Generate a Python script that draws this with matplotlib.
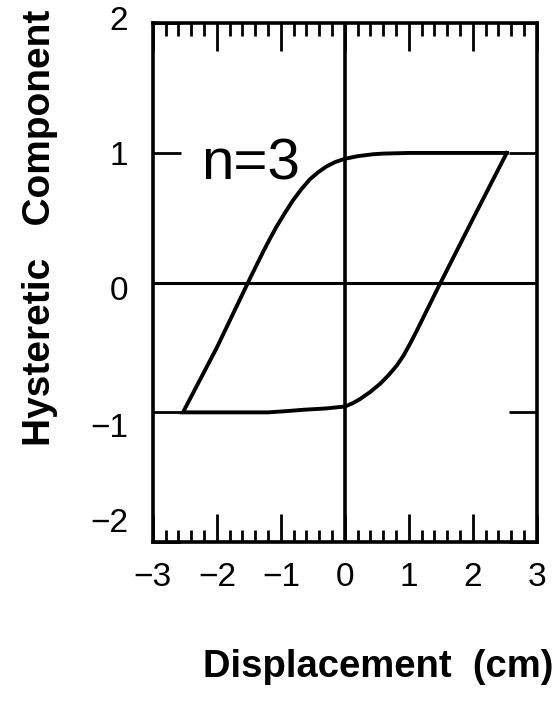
import matplotlib
matplotlib.use("Agg")
import matplotlib.pyplot as plt
from matplotlib.ticker import MultipleLocator
from matplotlib.transforms import ScaledTranslation

plt.rcParams['font.family'] = ['Liberation Sans', 'DejaVu Sans']

# hysteretic loop (n=3)
# upper branch: right tip -> left tip
x_upper = [2.53, 2.0, 1.5, 1.0, 0.6, 0.44, 0.2, 0.0, -0.15, -0.29, -0.42, -0.55, -0.68, -0.81,
           -0.94, -1.07, -1.18, -1.28, -1.38, -1.47, -2.0, -2.53]
y_upper = [1.0, 1.0, 1.0, 1.0, 0.995, 0.99, 0.975, 0.955, 0.93, 0.895, 0.85, 0.795, 0.72, 0.635,
           0.535, 0.43, 0.33, 0.235, 0.135, 0.045, -0.5, -1.0]
# lower branch: left tip -> right tip
x_lower = [-2.53, -2.0, -1.5, -1.2, -0.9, -0.65, -0.3, 0.0, 0.12, 0.23, 0.39, 0.55, 0.68, 0.81,
           0.92, 1.02, 1.12, 1.22, 1.33, 1.44, 2.0, 2.53]
y_lower = [-1.0, -1.0, -1.0, -1.0, -0.99, -0.98, -0.97, -0.955, -0.93, -0.90, -0.845, -0.78, -0.715, -0.64,
           -0.56, -0.47, -0.375, -0.275, -0.165, -0.055, 0.49, 1.0]

xticks = [-3, -2, -1, 0, 1, 2, 3]
yticks = [-2, -1, 0, 1, 2]
label_n = "n=3"

fig = plt.figure(figsize=(5.58, 7.04), dpi=100)
ax = fig.add_axes([0.274, 0.230, 0.688, 0.737])

ax.plot(x_upper + x_lower, y_upper + y_lower, color='black', lw=2.8, solid_joinstyle='miter')
ax.axhline(0, color='black', lw=2.2)
ax.axvline(0, color='black', lw=2.6)

ax.set_xlim(-3, 3)
ax.set_ylim(-2, 2)
for s in ax.spines.values():
    s.set_linewidth(2.6)

ax.set_xticks(xticks)
ax.set_xticklabels([str(t).replace('-', '\u2212') for t in xticks])
ax.xaxis.set_minor_locator(MultipleLocator(0.2))
ax.set_yticks(yticks)
ax.set_yticklabels([str(t).replace('-', '\u2212') for t in yticks])
ax.tick_params(axis='both', which='both', direction='in', top=True, right=True,
               width=2.0, labelsize=24)
ax.tick_params(axis='x', which='major', length=20, pad=14)
ax.tick_params(axis='x', which='minor', length=9)
ax.tick_params(axis='y', which='major', length=20, pad=18)

# nudge y tick labels to where they sit in the original
y_shift = {2: 4, 1: 0, 0: -4, -1: -9, -2: 16}
for t, lab in zip(yticks, ax.get_yticklabels()):
    lab.set_transform(lab.get_transform() +
                      ScaledTranslation(0, y_shift[t] / 72, fig.dpi_scale_trans))

ax.text(-2.24, 0.795, label_n, fontsize=42, va='baseline', ha='left')

fig.text(0.678, 0.052, "Displacement  (cm)", fontsize=27.5, fontweight='bold',
         ha='center', va='center')
fig.text(0.072, 0.677, "Hysteretic   Component", fontsize=28, fontweight='bold',
         rotation=90, ha='center', va='center')

fig.savefig("out.png", dpi=100)
